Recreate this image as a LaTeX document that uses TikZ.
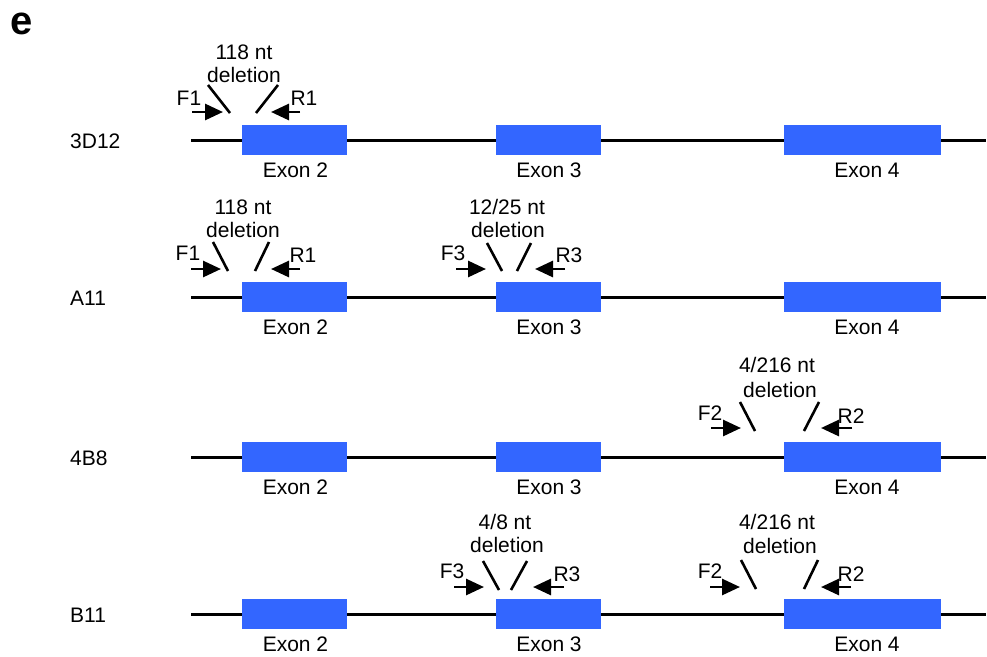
\documentclass[tikz,border=0pt]{standalone}
\usepackage{fontspec}
\setmainfont{Liberation Sans}
\usetikzlibrary{arrows.meta}
\definecolor{exonblue}{RGB}{51,102,255}
\begin{document}
\begin{tikzpicture}[x=1pt,y=-1pt,
  lbl/.style={inner sep=0pt,font=\fontsize{21}{24}\selectfont},
  exonbox/.style={fill=exonblue,draw=none,minimum width=#1,minimum height=30pt,inner sep=0pt},
  gene/.style={line width=3pt},
  cut/.style={line width=2.6pt},
  primer/.style={line width=2.8pt,-{Triangle[length=18pt 0,width=16pt 0]}}
]
\useasboundingbox (0,0) rectangle (987,656);
\node[inner sep=0pt,font=\fontsize{40}{44}\selectfont\bfseries] (panel) at (22,24) {e};

% ---- rows: gene lines ----
\foreach \r/\yy/\name in {1/140/3D12,2/297/A11,3/457/4B8,4/614/B11}{
  \coordinate (s\r) at (191,\yy);
  \coordinate (e\r) at (986,\yy);
  \draw[gene] (s\r) -- (e\r);
  \node[lbl,anchor=west] (name\r) at (70,\yy+1) {\name};
  \node[exonbox=105pt] (exA\r) at (294.5,\yy) {};
  \node[exonbox=105pt] (exB\r) at (548.5,\yy) {};
  \node[exonbox=157pt] (exC\r) at (862.5,\yy) {};
  \node[lbl] (lA\r) at (295.5,\yy+30) {Exon 2};
  \node[lbl] (lB\r) at (549,\yy+30) {Exon 3};
  \node[lbl] (lC\r) at (867,\yy+30) {Exon 4};
}

% ---- row 1, exon 2 ----
\node[lbl] (t1a) at (244,52) {118 nt};
\node[lbl] (t1b) at (244,75) {deletion};
\node[lbl] (f1a) at (189,98) {F1};
\node[lbl] (r1a) at (304,98) {R1};
\coordinate (sl1a) at (208,85); \coordinate (sl1b) at (230,113);
\coordinate (sr1a) at (278,85); \coordinate (sr1b) at (256,113);
\draw[cut] (sl1a) -- (sl1b);
\draw[cut] (sr1a) -- (sr1b);
\coordinate (pf1a) at (192,112); \coordinate (pf1b) at (223,112);
\coordinate (pr1a) at (300,112); \coordinate (pr1b) at (271,112);
\draw[primer] (pf1a) -- (pf1b);
\draw[primer] (pr1a) -- (pr1b);

% ---- row 2, exon 2 ----
\node[lbl] (t2a) at (243,207) {118 nt};
\node[lbl] (t2b) at (243,230) {deletion};
\node[lbl] (f2a) at (188,253) {F1};
\node[lbl] (r2a) at (303,255) {R1};
\coordinate (sl2a) at (213,242); \coordinate (sl2b) at (228,271);
\coordinate (sr2a) at (269,242); \coordinate (sr2b) at (255,271);
\draw[cut] (sl2a) -- (sl2b);
\draw[cut] (sr2a) -- (sr2b);
\coordinate (pf2a) at (191,269); \coordinate (pf2b) at (221,269);
\coordinate (pr2a) at (300,269); \coordinate (pr2b) at (271,269);
\draw[primer] (pf2a) -- (pf2b);
\draw[primer] (pr2a) -- (pr2b);

% ---- row 2, exon 3 ----
\node[lbl] (t3a) at (507,207) {12/25 nt};
\node[lbl] (t3b) at (508,230) {deletion};
\node[lbl] (f3a) at (453,253) {F3};
\node[lbl] (r3a) at (569,255) {R3};
\coordinate (sl3a) at (487,243); \coordinate (sl3b) at (502,271);
\coordinate (sr3a) at (531,243); \coordinate (sr3b) at (517,271);
\draw[cut] (sl3a) -- (sl3b);
\draw[cut] (sr3a) -- (sr3b);
\coordinate (pf3a) at (456,269); \coordinate (pf3b) at (486,269);
\coordinate (pr3a) at (565,269); \coordinate (pr3b) at (535,269);
\draw[primer] (pf3a) -- (pf3b);
\draw[primer] (pr3a) -- (pr3b);

% ---- row 3, exon 4 ----
\node[lbl] (t4a) at (777,365) {4/216 nt};
\node[lbl] (t4b) at (780,390) {deletion};
\node[lbl] (f4a) at (710,413) {F2};
\node[lbl] (r4a) at (851,416) {R2};
\coordinate (sl4a) at (740,402); \coordinate (sl4b) at (755,431);
\coordinate (sr4a) at (819,402); \coordinate (sr4b) at (804,431);
\draw[cut] (sl4a) -- (sl4b);
\draw[cut] (sr4a) -- (sr4b);
\coordinate (pf4a) at (711,428); \coordinate (pf4b) at (741,428);
\coordinate (pr4a) at (852,428); \coordinate (pr4b) at (821,428);
\draw[primer] (pf4a) -- (pf4b);
\draw[primer] (pr4a) -- (pr4b);

% ---- row 4, exon 3 ----
\node[lbl] (t5a) at (505,522) {4/8 nt};
\node[lbl] (t5b) at (507,545) {deletion};
\node[lbl] (f5a) at (452,571) {F3};
\node[lbl] (r5a) at (567,574) {R3};
\coordinate (sl5a) at (483,561); \coordinate (sl5b) at (499,590);
\coordinate (sr5a) at (527,561); \coordinate (sr5b) at (511,590);
\draw[cut] (sl5a) -- (sl5b);
\draw[cut] (sr5a) -- (sr5b);
\coordinate (pf5a) at (454,587); \coordinate (pf5b) at (484,587);
\coordinate (pr5a) at (564,587); \coordinate (pr5b) at (533,587);
\draw[primer] (pf5a) -- (pf5b);
\draw[primer] (pr5a) -- (pr5b);

% ---- row 4, exon 4 ----
\node[lbl] (t6a) at (777,522) {4/216 nt};
\node[lbl] (t6b) at (780,546) {deletion};
\node[lbl] (f6a) at (710,571) {F2};
\node[lbl] (r6a) at (851,574) {R2};
\coordinate (sl6a) at (741,560); \coordinate (sl6b) at (756,589);
\coordinate (sr6a) at (818,560); \coordinate (sr6b) at (804,589);
\draw[cut] (sl6a) -- (sl6b);
\draw[cut] (sr6a) -- (sr6b);
\coordinate (pf6a) at (710,587); \coordinate (pf6b) at (740,587);
\coordinate (pr6a) at (851,587); \coordinate (pr6b) at (821,587);
\draw[primer] (pf6a) -- (pf6b);
\draw[primer] (pr6a) -- (pr6b);
\end{tikzpicture}
\end{document}
